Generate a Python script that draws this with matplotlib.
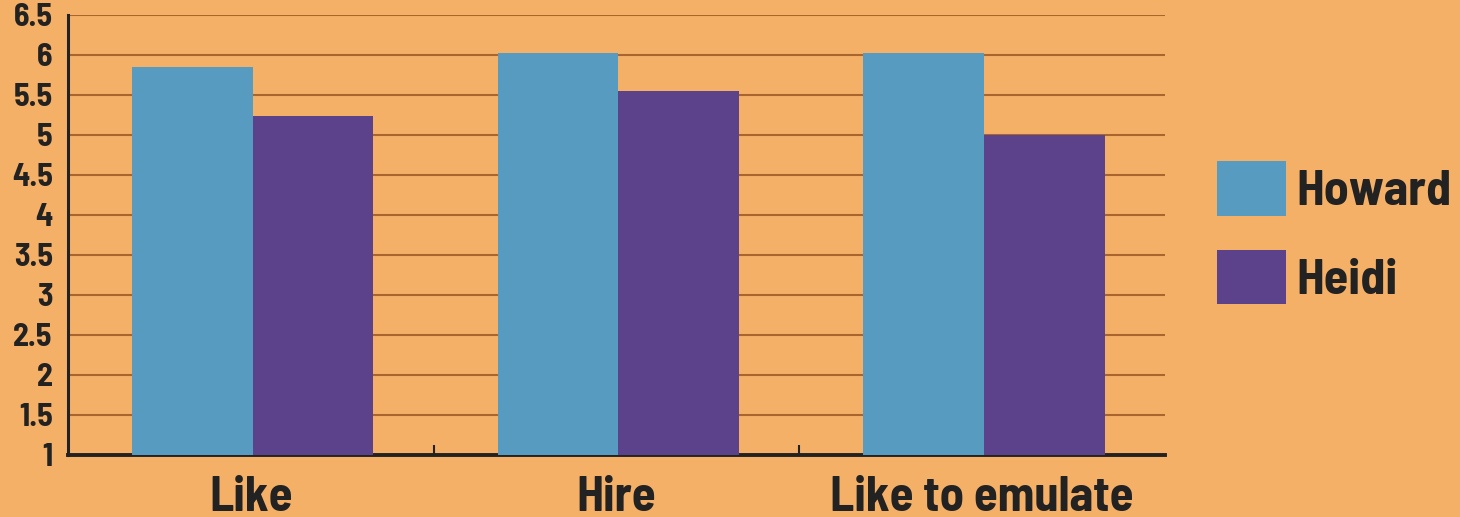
import matplotlib
matplotlib.use("Agg")
import matplotlib.pyplot as plt
import numpy as np

categories = ["Like", "Hire", "Like to emulate"]
howard = [5.85, 6.02, 6.02]
heidi = [5.24, 5.55, 5.0]
series_names = ["Howard", "Heidi"]
yticks = [1, 1.5, 2, 2.5, 3, 3.5, 4, 4.5, 5, 5.5, 6, 6.5]
ytick_labels = ["1", "1.5", "2", "2.5", "3", "3.5", "4", "4.5", "5", "5.5", "6", "6.5"]

bg = "#F5B068"
blue = "#589BC0"
purple = "#5B428A"
grid_c = "#A9652E"
ink = "#222222"
font = ["Barlow Semi Condensed", "DejaVu Sans"]

fig = plt.figure(figsize=(14.6, 5.17), dpi=100, facecolor=bg)
ax = fig.add_axes([68/1460, 62/517, (1165-68)/1460, 440/517])
ax.set_facecolor(bg)

x = np.arange(len(categories))
w = 0.33
b1 = ax.bar(x - w/2 + 0.005, np.array(howard) - 1, w, bottom=1, color=blue, label=series_names[0], zorder=3)
b2 = ax.bar(x + w/2 + 0.005, np.array(heidi) - 1, w, bottom=1, color=purple, label=series_names[1], zorder=3)

ax.set_xlim(-0.5, 2.5)
ax.set_ylim(1, 6.5)
ax.set_yticks(yticks)
ax.set_yticklabels(ytick_labels, family=font, fontweight="bold", fontsize=23, color=ink)
ax.yaxis.grid(True, color=grid_c, linewidth=1.5, zorder=1)
ax.set_axisbelow(True)

ax.set_xticks(x)
ax.set_xticklabels(categories, family=font, fontweight="bold", fontsize=35, color=ink)
ax.set_xticks([0.5, 1.5], minor=True)
ax.tick_params(axis="x", which="major", length=0, pad=15)
ax.tick_params(axis="x", which="minor", direction="in", length=7, width=1.5, color=ink)
ax.tick_params(axis="y", length=0, pad=11)

for s in ["top", "right"]:
    ax.spines[s].set_visible(False)
ax.spines["left"].set_linewidth(2.2)
ax.spines["bottom"].set_linewidth(2.8)
ax.spines["left"].set_color(ink)
ax.spines["bottom"].set_color(ink)

leg = fig.legend(handles=[b1, b2], labels=series_names, loc="upper left",
                 bbox_to_anchor=(1197/1460, 1 - 141/517), frameon=False,
                 prop={"family": font, "weight": "bold", "size": 36},
                 handlelength=1.38, handleheight=1.30, labelspacing=0.68,
                 handletextpad=0.2, borderaxespad=0)
for t in leg.get_texts():
    t.set_color(ink)

fig.savefig("out.png", dpi=100, facecolor=bg)
